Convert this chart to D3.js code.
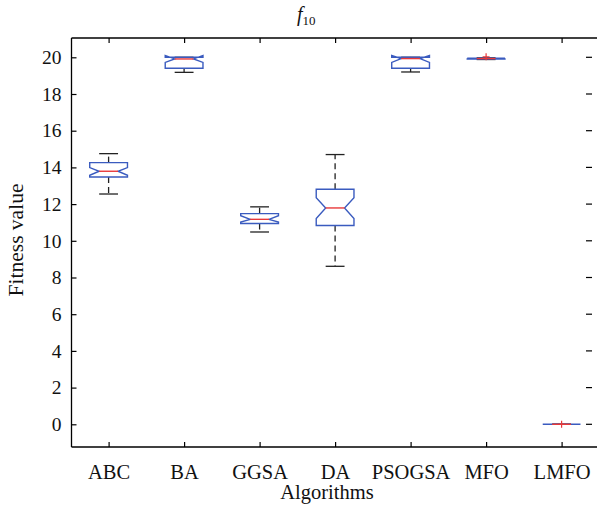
<!DOCTYPE html>
<html><head><meta charset="utf-8">
<script src="https://cdn.jsdelivr.net/npm/d3@7"></script>
<style>body{margin:0;background:#fff}svg{display:block}text{font-family:"Liberation Serif","Times New Roman",serif;fill:#111}</style>
</head><body><svg id="c" width="597" height="513"></svg>
<script>
const categories = ["ABC","BA","GGSA","DA","PSOGSA","MFO","LMFO"];
const whiskerLow  = [12.55, 19.18, 10.48,  8.61, 19.20, 19.88, 0];
const q1          = [13.48, 19.40, 10.94, 10.83, 19.40, 19.90, 0];
const median      = [13.79, 19.91, 11.17, 11.79, 19.93, 19.93, 0];
const q3          = [14.26, 20.00, 11.48, 12.81, 20.00, 19.95, 0];
const whiskerHigh = [14.75, 20.00, 11.85, 14.70, 20.00, 19.97, 0];
const notchLow    = [13.57, 19.72, 11.02, 11.21, 19.72, 19.91, 0];
const notchHigh   = [13.99, 20.10, 11.37, 12.35, 20.10, 19.95, 0];
const outlierCat  = ["MFO","LMFO"];
const outlierVal  = [20.03, 0];
const yTicks = [0,2,4,6,8,10,12,14,16,18,20];

(function(){
const svg = d3.select("#c");
const L = 71.5, T = 38, B = 447;
const x = d3.scalePoint().domain(categories).range([108.6, 561.6]);
const step = x.step();
const y = d3.scaleLinear().domain([0,20]).range([424.3, 57.3]);
const blue = "#3a5bbf", red = "#e8393a";

const g = svg.append("g");
g.append("line").attr("x1",L).attr("x2",597).attr("y1",T).attr("y2",T).attr("stroke","#000").attr("stroke-width",1.3);
g.append("line").attr("x1",L).attr("x2",597).attr("y1",B).attr("y2",B).attr("stroke","#000").attr("stroke-width",1.3);
g.append("line").attr("x1",L).attr("x2",L).attr("y1",T).attr("y2",B).attr("stroke","#000").attr("stroke-width",1.3);

const ya = svg.append("g").attr("transform",`translate(${L},0)`)
  .call(d3.axisLeft(y).tickValues(yTicks).tickSizeInner(-5).tickSizeOuter(0).tickPadding(10));
ya.select(".domain").remove();
ya.selectAll("text").style("font-size","19.5px").style("font-family","Liberation Serif");
ya.selectAll("line").attr("stroke-width",1.2);
svg.append("g").selectAll("line").data(yTicks).join("line")
  .attr("x1",586).attr("x2",592).attr("y1",d=>y(d)).attr("y2",d=>y(d)).attr("stroke","#000").attr("stroke-width",1.2);

const xa = svg.append("g").attr("transform",`translate(0,${B})`)
  .call(d3.axisBottom(x).tickSizeInner(-5).tickSizeOuter(0).tickPadding(17));
xa.select(".domain").remove();
xa.selectAll("text").style("font-size","20.5px").style("font-family","Liberation Serif");
xa.selectAll("line").attr("stroke-width",1.2);
const xt = svg.append("g").attr("transform",`translate(0,${T})`)
  .call(d3.axisTop(x).tickSizeInner(-5).tickSizeOuter(0).tickFormat(""));
xt.select(".domain").remove();
xt.selectAll("line").attr("stroke-width",1.2);

const bw = step*0.25, nw = bw*0.5, cw = bw*0.5;
const data = categories.map((c,i)=>({c, wl:whiskerLow[i], q1:q1[i], med:median[i], q3:q3[i], wh:whiskerHigh[i], nl:notchLow[i], nh:notchHigh[i]}));
const bg = svg.append("g");
data.forEach(d=>{
  const cx = x(d.c);
  bg.append("line").attr("x1",cx).attr("x2",cx).attr("y1",y(d.q3)).attr("y2",y(d.wh))
    .attr("stroke","#222").attr("stroke-width",1.3).attr("stroke-dasharray","6,4");
  bg.append("line").attr("x1",cx).attr("x2",cx).attr("y1",y(d.q1)).attr("y2",y(d.wl))
    .attr("stroke","#222").attr("stroke-width",1.3).attr("stroke-dasharray","6,4");
  [d.wh,d.wl].forEach(v=>bg.append("line").attr("x1",cx-cw).attr("x2",cx+cw).attr("y1",y(v)).attr("y2",y(v))
    .attr("stroke","#222").attr("stroke-width",1.3));
  const pts = [[cx-bw,d.q1],[cx-bw,d.nl],[cx-nw,d.med],[cx-bw,d.nh],[cx-bw,d.q3],
               [cx+bw,d.q3],[cx+bw,d.nh],[cx+nw,d.med],[cx+bw,d.nl],[cx+bw,d.q1]];
  bg.append("path").attr("d", d3.line().x(p=>p[0]).y(p=>y(p[1]))(pts)+"Z")
    .attr("fill","none").attr("stroke",blue).attr("stroke-width",1.4).attr("stroke-linejoin","miter");
  bg.append("line").attr("x1",cx-nw).attr("x2",cx+nw).attr("y1",y(d.med)).attr("y2",y(d.med))
    .attr("stroke",red).attr("stroke-width",1.4);
});
outlierCat.forEach((c,i)=>{
  const cx = x(c), cy = y(outlierVal[i]);
  bg.append("path").attr("d",`M${cx-3.5},${cy}H${cx+3.5}M${cx},${cy-3.5}V${cy+3.5}`)
    .attr("stroke",red).attr("stroke-width",1.2);
});

const t = svg.append("text").attr("x",297).attr("y",21).style("font-size","20px");
t.append("tspan").text("f").style("font-style","italic");
t.append("tspan").text("10").attr("dy",4).style("font-size","13px");
svg.append("text").attr("x",327).attr("y",499).attr("text-anchor","middle").style("font-size","20.5px").text("Algorithms");
svg.append("text").attr("transform","translate(23,240) rotate(-90)").attr("text-anchor","middle").style("font-size","21.5px").text("Fitness value");
})();
</script></body></html>
